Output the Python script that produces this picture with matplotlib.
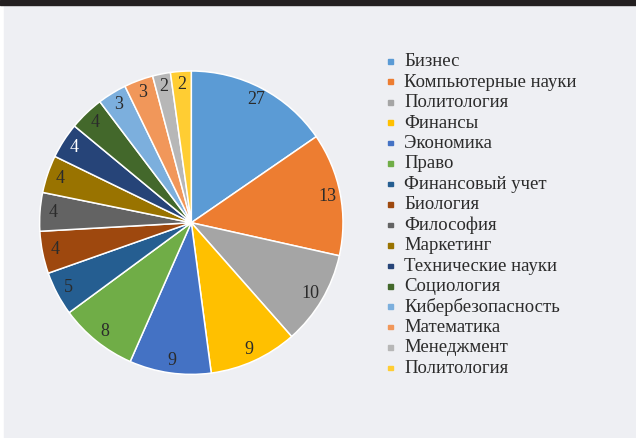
import matplotlib

matplotlib.use("Agg")
from matplotlib import pyplot as plt
from matplotlib.patches import Rectangle

# legend names, in drawing order (clockwise from 12 o'clock)
categories = ["Бизнес", "Компьютерные науки", "Политология", "Финансы",
              "Экономика", "Право", "Финансовый учет", "Биология",
              "Философия", "Маркетинг", "Технические науки", "Социология",
              "Кибербезопасность", "Математика", "Менеджмент", "Политология"]
# numbers printed on the slices
counts = [27, 13, 10, 9, 9, 8, 5, 4, 4, 4, 4, 4, 3, 3, 2, 2]
# slice sizes as drawn in the original (percent of the circle)
shares = [15.4, 13.1, 10.0, 9.4, 8.7, 8.3, 4.7, 4.5,
          4.1, 4.0, 3.8, 3.7, 3.1, 3.1, 1.9, 2.2]
colors = ["#5B9BD5", "#ED7D31", "#A5A5A5", "#FFC000", "#4472C4", "#70AD47",
          "#255E91", "#9E480E", "#636363", "#997300", "#264478", "#43682B",
          "#7CAFDD", "#F1975A", "#B7B7B7", "#FFCD33"]

W, H = 636, 438
fig = plt.figure(figsize=(W / 100, H / 100), dpi=100)
fig.patch.set_facecolor("white")

# panel background and dark strip on top
fig.patches.append(Rectangle((4 / W, 0), 1 - 4 / W, 1 - 5 / H,
                             transform=fig.transFigure, color="#eeeff3", zorder=-10))
fig.patches.append(Rectangle((0, 1 - 5 / H), 1, 5 / H,
                             transform=fig.transFigure, color="#231f20", zorder=-10))

font = "Liberation Serif"
text_color = "#2b2b2b"

# pie: center (191, 223) px, radius 152 px
cx, cy, r = 191.3, 222.7, 151.7
ax = fig.add_axes([(cx - r) / W, (H - cy - r) / H, 2 * r / W, 2 * r / H])
ax.set_facecolor("none")
wedges, texts = ax.pie(shares, labels=[str(c) for c in counts], colors=colors,
                       startangle=90, counterclock=False, radius=1,
                       labeldistance=0.915,
                       wedgeprops=dict(edgecolor="white", linewidth=1.1),
                       textprops=dict(family=font, fontsize=13, color=text_color))
for t, name in zip(texts, categories):
    t.set_ha("center")
    t.set_va("center")
    if name == "Технические науки":
        t.set_color("white")
ax.set_xlim(-1, 1)
ax.set_ylim(-1, 1)
ax.axis("off")

# legend drawn by hand
y0, step = 61.3, 20.45
for i, (name, col) in enumerate(zip(categories, colors)):
    yc = y0 + step * i
    fig.patches.append(Rectangle((388 / W, 1 - (yc + 2.3) / H), 4.6 / W, 4.6 / H,
                                 transform=fig.transFigure, color=col, zorder=3))
    fig.text(404 / W, 1 - (yc + 4.9) / H, name, family=font, fontsize=13.5,
             color=text_color, ha="left", va="baseline")

plt.savefig("out.png", dpi=100)
plt.close()
